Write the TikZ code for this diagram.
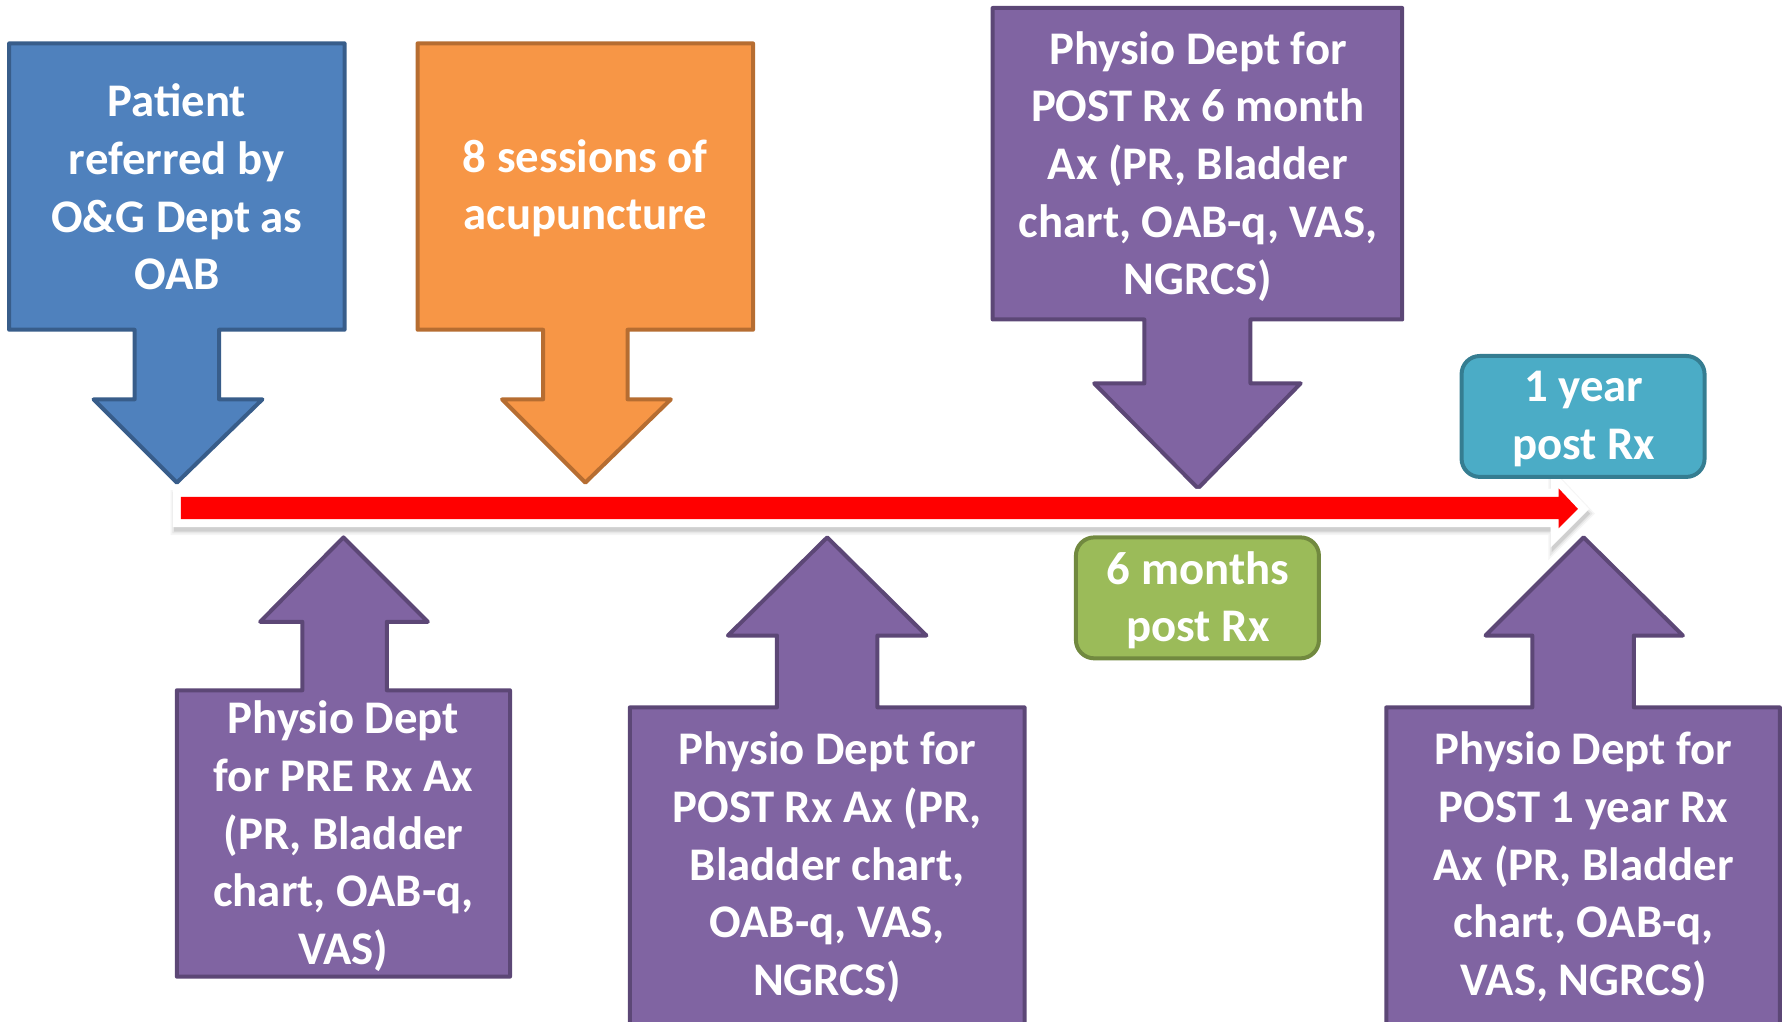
\documentclass[tikz,border=0pt]{standalone}
\usepackage{fontspec}
\setmainfont{Carlito}
\definecolor{bluefill}{HTML}{4F81BD}
\definecolor{blueline}{HTML}{385D8A}
\definecolor{orangefill}{HTML}{F79646}
\definecolor{orangeline}{HTML}{B66D31}
\definecolor{purpfill}{HTML}{8064A2}
\definecolor{purpline}{HTML}{5C4776}
\definecolor{tealfill}{HTML}{4BACC6}
\definecolor{tealline}{HTML}{357D91}
\definecolor{greenfill}{HTML}{9BBB59}
\definecolor{greenline}{HTML}{71893F}
\definecolor{tlred}{HTML}{FF0000}
\begin{document}
\begin{tikzpicture}[x=1pt,y=-1pt,
  callout/.style={line width=3.5pt,line join=round},
  txt/.style={text=white,font=\bfseries\fontsize{41}{50.5}\selectfont,align=center,inner sep=0pt},
  tag/.style={rounded corners=16pt,line width=3.5pt},
  tlshape/.style={insert path={(158.6,435.5) -- (1366,435.5) -- (1366,428) -- (1383,446) -- (1366,463) -- (1366,455) -- (158.6,455) -- cycle}}]
\useasboundingbox (0,0) rectangle (1568,895);
\clip (0,0) rectangle (1568,895);
% top callouts
\draw[callout,fill=bluefill,draw=blueline] (8,38) -- (302,38) -- (302,289) -- (192,289) -- (192,350) -- (230,350) -- (155,423) -- (82,350) -- (118,350) -- (118,289) -- (8,289) -- cycle;
\node[txt] (patient) at (155,164) {Patient\\referred by\\O\&G Dept as\\OAB};
\draw[callout,fill=orangefill,draw=orangeline] (366,38) -- (660,38) -- (660,289) -- (550,289) -- (550,350) -- (588,350) -- (513,423) -- (440,350) -- (476,350) -- (476,289) -- (366,289) -- cycle;
\node[txt] (acu) at (513,165) {8 sessions of\\acupuncture};
\draw[callout,fill=purpfill,draw=purpline] (870,7) -- (1229,7) -- (1229,280) -- (1096,280) -- (1096,336) -- (1140,336) -- (1050,428) -- (959,336) -- (1003,336) -- (1003,280) -- (870,280) -- cycle;
\node[txt] (post6) at (1050,146) {Physio Dept for\\POST Rx 6 month\\Ax (PR, Bladder\\chart, OAB-q, VAS,\\NGRCS)};
% timeline arrow: soft shadow, white rim, red body
\begin{scope}[shift={(1,4)}]
\draw[tlshape,line width=20pt,draw=black,opacity=0.04,line join=miter];
\draw[tlshape,line width=17pt,draw=black,opacity=0.06,line join=miter];
\draw[tlshape,line width=14pt,draw=black,opacity=0.10,fill=black,fill opacity=0.10,line join=miter];
\end{scope}
\draw[tlshape,line width=14pt,draw=white,fill=white,line join=miter];
\fill[tlred,tlshape];
\coordinate (tlstart) at (158.6,446);
\coordinate (tlend) at (1383,446);
% tags
\draw[tag,fill=tealfill,draw=tealline] (1281,312) rectangle (1494,418);
\node[txt] (oneyear) at (1388,367) {1 year\\post Rx};
\draw[tag,fill=greenfill,draw=greenline] (943,471) rectangle (1156,577);
\node[txt] (sixmonths) at (1050,526) {6 months\\post Rx};
% bottom callouts
\draw[callout,fill=purpfill,draw=purpline] (155,856) -- (447,856) -- (447,605) -- (339,605) -- (339,545) -- (375,545) -- (301,471) -- (228,545) -- (265,545) -- (265,605) -- (155,605) -- cycle;
\node[txt] (pre) at (301,733) {Physio Dept\\for PRE Rx Ax\\(PR, Bladder\\chart, OAB-q,\\VAS)};
\draw[callout,fill=purpfill,draw=purpline] (552,920) -- (898,920) -- (898,620) -- (769,620) -- (769,557) -- (812,557) -- (725,471) -- (638,557) -- (681,557) -- (681,620) -- (552,620) -- cycle;
\node[txt] (post) at (725,760) {Physio Dept for\\POST Rx Ax (PR,\\Bladder chart,\\OAB-q, VAS,\\NGRCS)};
\draw[callout,fill=purpfill,draw=purpline] (1215,920) -- (1560,920) -- (1560,620) -- (1432,620) -- (1432,557) -- (1475,557) -- (1388,471) -- (1302,557) -- (1343,557) -- (1343,620) -- (1215,620) -- cycle;
\node[txt] (post1y) at (1388,760) {Physio Dept for\\POST 1 year Rx\\Ax (PR, Bladder\\chart, OAB-q,\\VAS, NGRCS)};
\end{tikzpicture}
\end{document}
